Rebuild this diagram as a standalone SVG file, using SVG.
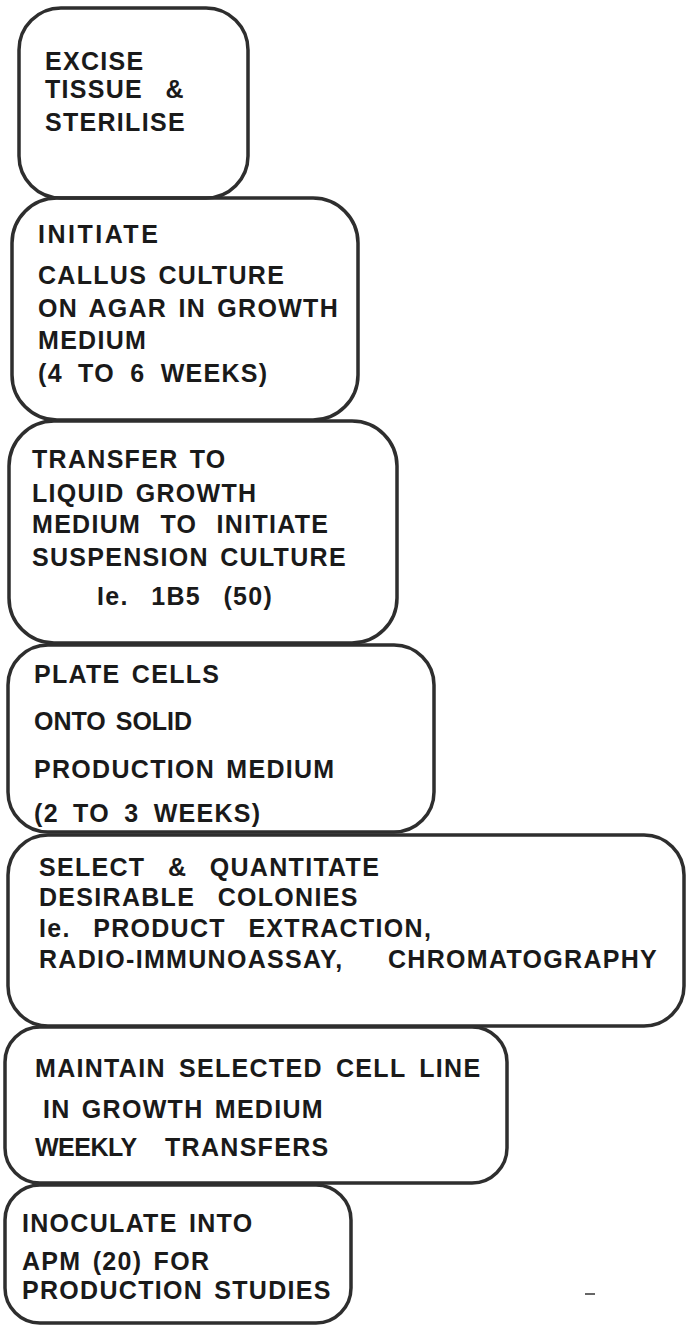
<svg xmlns="http://www.w3.org/2000/svg" width="686" height="1329" viewBox="0 0 686 1329">
<style>
.box{fill:none;stroke:#2e2e2e;stroke-width:3.5}
.t{font-family:"Liberation Sans",Arial,sans-serif;font-weight:bold;font-size:25px;fill:#1a1a1a;letter-spacing:1.3px;word-spacing:3px;white-space:pre}
</style>
<rect width="686" height="1329" fill="#ffffff"/>
<g id="connectors"></g>
<g id="n1">
<rect class="box" x="19" y="8" width="229" height="190" rx="42"/>
<text class="t" x="45" y="70">EXCISE</text>
<text class="t" x="45" y="98">TISSUE  &amp;</text>
<text class="t" x="45" y="131">STERILISE</text>
</g>
<g id="n2">
<rect class="box" x="12" y="198" width="346" height="222" rx="45"/>
<text class="t" x="38" y="243" style="letter-spacing:2.5px">INITIATE</text>
<text class="t" x="38" y="284">CALLUS CULTURE</text>
<text class="t" x="38" y="317">ON AGAR IN GROWTH</text>
<text class="t" x="38" y="349">MEDIUM</text>
<text class="t" x="38" y="382" style="word-spacing:7px">(4 TO 6 WEEKS)</text>
</g>
<g id="n3">
<rect class="box" x="9" y="421" width="388" height="222" rx="45"/>
<text class="t" x="32" y="468">TRANSFER TO</text>
<text class="t" x="32" y="502">LIQUID GROWTH</text>
<text class="t" x="32" y="533" style="word-spacing:11px">MEDIUM TO INITIATE</text>
<text class="t" x="32" y="566">SUSPENSION CULTURE</text>
<text class="t" x="97" y="605">Ie.  1B5  (50)</text>
</g>
<g id="n4">
<rect class="box" x="8" y="645" width="426" height="187" rx="40"/>
<text class="t" x="34" y="683">PLATE CELLS</text>
<text class="t" x="34" y="730" style="letter-spacing:0">ONTO SOLID</text>
<text class="t" x="34" y="778">PRODUCTION MEDIUM</text>
<text class="t" x="34" y="822" style="word-spacing:6px">(2 TO 3 WEEKS)</text>
</g>
<g id="n5">
<rect class="box" x="8" y="835" width="676" height="191" rx="40"/>
<text class="t" x="39" y="876">SELECT  &amp;  QUANTITATE</text>
<text class="t" x="39" y="906">DESIRABLE  COLONIES</text>
<text class="t" x="39" y="937">Ie.  PRODUCT  EXTRACTION,</text>
<text class="t" x="39" y="968">RADIO-IMMUNOASSAY,<tspan x="388">CHROMATOGRAPHY</tspan></text>
</g>
<g id="n6">
<rect class="box" x="5" y="1027" width="502" height="156" rx="35"/>
<text class="t" x="35" y="1077" style="word-spacing:5px">MAINTAIN SELECTED CELL LINE</text>
<text class="t" x="43" y="1118">IN GROWTH MEDIUM</text>
<text class="t" x="35" y="1156"><tspan style="letter-spacing:-0.5px">WEEKLY</tspan><tspan x="165">TRANSFERS</tspan></text>
</g>
<g id="n7">
<rect class="box" x="5" y="1185" width="346" height="138" rx="35"/>
<text class="t" x="22" y="1232">INOCULATE INTO</text>
<text class="t" x="22" y="1270">APM (20) FOR</text>
<text class="t" x="22" y="1299">PRODUCTION STUDIES</text>
</g>
<line x1="585" y1="1294" x2="595" y2="1294" stroke="#333" stroke-width="1.5"/>
</svg>
